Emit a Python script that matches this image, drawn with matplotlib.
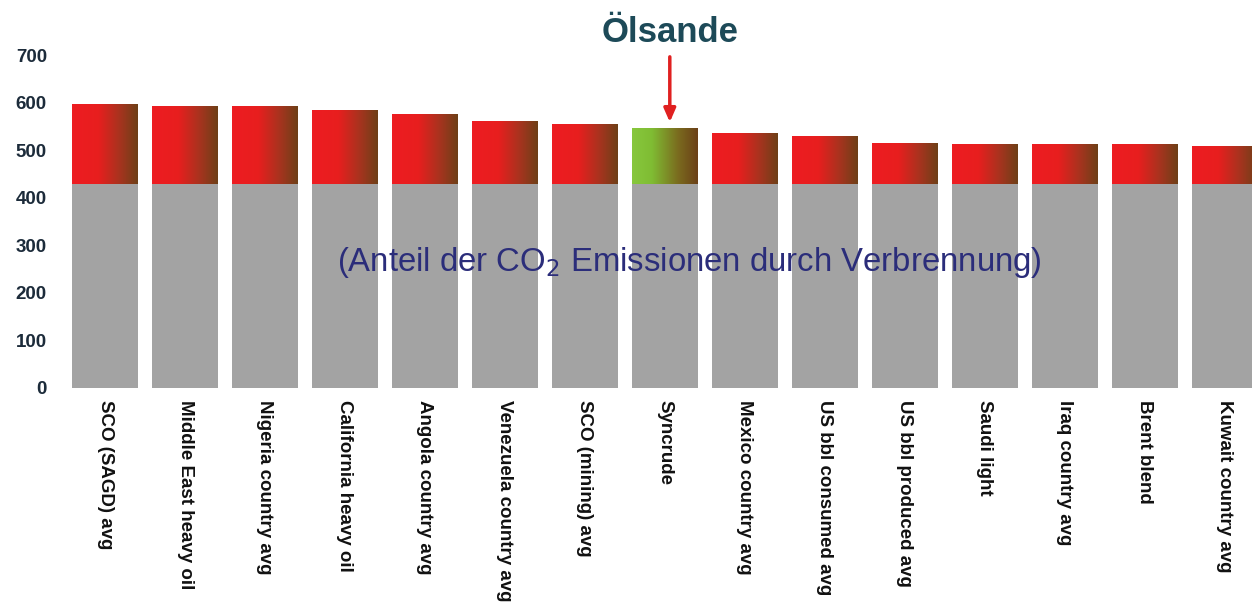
import numpy as np
import matplotlib
matplotlib.use("Agg")
import matplotlib.pyplot as plt
from matplotlib.colors import LinearSegmentedColormap

categories = ["SCO (SAGD) avg", "Middle East heavy oil", "Nigeria country avg",
              "California heavy oil", "Angola country avg", "Venezuela country avg",
              "SCO (mining) avg", "Syncrude", "Mexico country avg", "US bbl consumed avg",
              "US bbl produced avg", "Saudi light", "Iraq country avg", "Brent blend",
              "Kuwait country avg"]
combustion = [428] * 15
total = [597, 593, 593, 584, 576, 561, 555, 547, 536, 530, 515, 513, 513, 513, 509]
highlight = "Syncrude"
yticks = [0, 100, 200, 300, 400, 500, 600, 700]

plt.rcParams['font.family'] = ['Liberation Sans', 'DejaVu Sans']

fig = plt.figure(figsize=(12.52, 6.13), dpi=100)
ax = fig.add_axes([65/1252, (613-388)/613, 1 - 65/1252, (388-55)/613])

x = np.arange(len(categories))
w = 0.825
ax.bar(x, combustion, width=w, color="#a3a3a3", zorder=2)
upper = [t - c for t, c in zip(total, combustion)]
tops = ax.bar(x, upper, bottom=combustion, width=w, color="none", zorder=2)

red_cmap = LinearSegmentedColormap.from_list("r", [
    (0.0, (0.93, 0.11, 0.13)), (0.4, (0.91, 0.12, 0.12)),
    (0.72, (0.66, 0.20, 0.12)), (1.0, (0.43, 0.25, 0.09))])
green_cmap = LinearSegmentedColormap.from_list("g", [
    (0.0, (0.53, 0.78, 0.24)), (0.3, (0.50, 0.74, 0.20)),
    (0.7, (0.48, 0.42, 0.12)), (1.0, (0.42, 0.25, 0.09))])
grad = np.linspace(0, 1, 256).reshape(1, -1)

for cat, p in zip(categories, tops.patches):
    x0, y0 = p.get_x(), p.get_y()
    cm = green_cmap if cat == highlight else red_cmap
    im = ax.imshow(grad, cmap=cm, aspect="auto", interpolation="bilinear",
                   extent=(x0, x0 + p.get_width(), y0, y0 + p.get_height()), zorder=3)
    im.set_clip_path(p)

ax.set_xlim(-0.5, (1252 - 105) / 80)
ax.set_ylim(0, 700)
for s in ax.spines.values():
    s.set_visible(False)
ax.set_yticks(yticks)
ax.set_yticklabels([str(v) for v in yticks], fontsize=13.5, fontweight="bold", color="#1c2b3a")
ax.tick_params(axis="y", length=0, pad=13)
ax.set_xticks(x)
ax.set_xticklabels(categories, rotation=270, fontsize=13.5, fontweight="bold",
                   color="#111111", va="top", ha="center")
ax.tick_params(axis="x", length=0, pad=9)

ax.text(7.3, 263, "(Anteil der CO$_2$ Emissionen durch Verbrennung)",
        ha="center", va="center", fontsize=23.7, color="#2b2d7a", zorder=5)

hi = categories.index(highlight)
ax.annotate("", xy=(hi + 0.06, total[hi] + 6), xytext=(hi + 0.06, total[hi] + 155),
            arrowprops=dict(arrowstyle="-|>,head_width=0.35,head_length=0.8",
                            color="#e02020", lw=2.5), annotation_clip=False)
ax.text(hi + 0.06, 748, "Ölsande", ha="center", va="center", fontsize=25,
        fontweight="bold", color="#1d4a58")

fig.savefig("out.png", dpi=100)
